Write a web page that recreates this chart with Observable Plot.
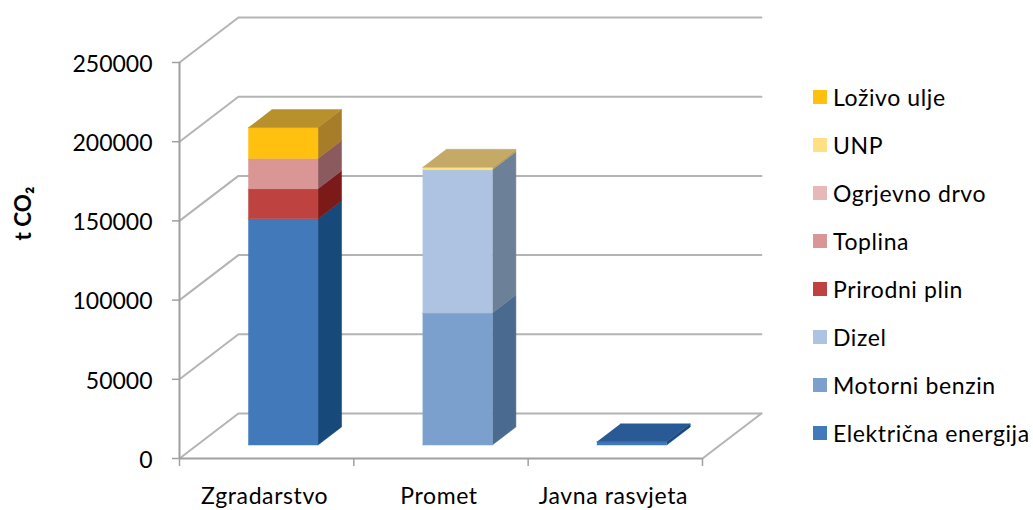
<!DOCTYPE html>
<html>
<head>
<meta charset="utf-8">
<script src="https://cdn.jsdelivr.net/npm/d3@7"></script>
<script src="https://cdn.jsdelivr.net/npm/@observablehq/plot@0.6"></script>
<style>
html,body{margin:0;padding:0;background:#fff;}
#wrap{position:relative;width:1033px;height:510px;overflow:hidden;font-family:Lato,sans-serif;}
#legend{position:absolute;left:813px;top:73px;display:flex;flex-direction:column;}
.row{height:48px;display:flex;align-items:center;font-size:23px;color:#000;white-space:nowrap;letter-spacing:0.6px;}
.sw{width:14px;height:14px;margin-right:6px;flex:none;}
</style>
</head>
<body>
<div id="wrap"><div id="legend"></div></div>
<script>
const categories = ["Zgradarstvo", "Promet", "Javna rasvjeta"];
const seriesNames = ["Električna energija", "Motorni benzin", "Dizel", "Prirodni plin", "Toplina", "Ogrjevno drvo", "UNP", "Loživo ulje"];
const electricity = [142800, 0, 2000];
const petrol = [0, 83300, 0];
const diesel = [0, 90500, 0];
const naturalGas = [19000, 0, 0];
const heat = [19000, 0, 0];
const firewood = [0, 0, 0];
const lpg = [0, 1500, 0];
const fuelOil = [19600, 0, 0];
const seriesValues = [electricity, petrol, diesel, naturalGas, heat, firewood, lpg, fuelOil];
const frontColors = ["#4279BB", "#7BA0CE", "#ADC3E1", "#BE4340", "#D99694", "#E6B9B8", "#FFE082", "#FFC010"];
const sideColors = ["#17497A", "#4B6A90", "#6C8098", "#7B1A18", "#8B5A5E", "#A07C7C", "#B8A060", "#A87D2A"];
const topColors = ["#2A5A96", "#5C7FA8", "#8CA2BE", "#97302E", "#A87472", "#B89392", "#C4AA66", "#B8902C"];
const yTicks = [0, 50000, 100000, 150000, 200000, 250000];
const xTicks = [0, 1, 2, 3];

// Oblique projection expressed in data units: depth 1 = the full floor depth.
const depthX = 0.338, depthY = 28400;
const P = (x, v, d) => ({x: x + d * depthX, y: v + d * depthY});
const barGap = 0.293, barWidth = 0.4, d0 = 0.3, d1 = 0.7;

const marks = [];
const lineStyle = {x: "x", y: "y", stroke: "#B4B4B4", strokeWidth: 2};

// walls and floor
for (const t of yTicks) {
  marks.push(Plot.line([P(0, t, 0), P(0, t, 1), P(3, t, 1)], lineStyle));
}
marks.push(Plot.line([P(3, 0, 1), P(3, 0, 0)], lineStyle));

// bars
const poly = (pts, fill) => Plot.line(pts, {x: "x", y: "y", fill, stroke: fill, strokeWidth: 0.5});
categories.forEach((c, i) => {
  const xl = i + barGap, xr = xl + barWidth;
  let base = 0, lastTop = -1;
  seriesValues.forEach((vals, s) => { if (vals[i] > 0) lastTop = s; });
  seriesValues.forEach((vals, s) => {
    const v = vals[i];
    if (!v) return;
    const top = base + v;
    marks.push(poly([P(xr, base, d0), P(xr, base, d1), P(xr, top, d1), P(xr, top, d0)], sideColors[s]));
    marks.push(poly([P(xl, base, d0), P(xr, base, d0), P(xr, top, d0), P(xl, top, d0)], frontColors[s]));
    if (s === lastTop) {
      marks.push(poly([P(xl, top, d0), P(xr, top, d0), P(xr, top, d1), P(xl, top, d1)], topColors[s]));
    }
    base = top;
  });
});

// axes
const axisStroke = "#A0A0A0";
const tickX = 0.04, tickV = 5000;
marks.push(Plot.ruleX([0], {y1: 0, y2: 250000, stroke: axisStroke, strokeWidth: 2}));
marks.push(Plot.ruleY([0], {x1: 0, x2: 3, stroke: axisStroke, strokeWidth: 2}));
marks.push(Plot.ruleY(yTicks, {y: d => d, x1: -tickX, x2: 0, stroke: axisStroke, strokeWidth: 1.5}));
marks.push(Plot.ruleX(xTicks, {x: d => d, y1: -tickV, y2: 0, stroke: axisStroke, strokeWidth: 1.5}));
marks.push(Plot.text(yTicks, {x: () => 0, y: d => d, text: d => String(d), textAnchor: "end", dx: -27, dy: 2, fontSize: 23, fill: "#000"}));
marks.push(Plot.text(categories, {x: (d, i) => i + 0.5, y: () => 0, text: d => d, dx: -2, dy: 38, fontSize: 23, fill: "#000"}));
marks.push(Plot.text(["t CO₂"], {frameAnchor: "left", dx: 23, dy: -15, rotate: -90, text: d => d, fontSize: 22.5, fontWeight: "bold", fill: "#000"}));

const chart = Plot.plot({
  width: 1033, height: 510,
  marginTop: 0, marginRight: 0, marginBottom: 0, marginLeft: 0,
  x: {type: "linear", domain: [0, 3], range: [179, 702], axis: null},
  y: {type: "linear", domain: [0, 250000], range: [458, 62], axis: null},
  style: {fontFamily: "Lato, sans-serif", background: "#fff", overflow: "visible"},
  marks
});
chart.querySelectorAll("text").forEach(t => { if (categories.includes(t.textContent)) t.style.letterSpacing = "0.6px"; });
document.getElementById("wrap").prepend(chart);

// legend, top to bottom in reverse stacking order
const legend = document.getElementById("legend");
const legendOrder = ["Loživo ulje", "UNP", "Ogrjevno drvo", "Toplina", "Prirodni plin", "Dizel", "Motorni benzin", "Električna energija"];
for (const n of legendOrder) {
  const row = document.createElement("div"); row.className = "row";
  const sw = document.createElement("div"); sw.className = "sw"; sw.style.background = frontColors[seriesNames.indexOf(n)];
  const t = document.createElement("span"); t.textContent = n;
  row.append(sw, t); legend.append(row);
}
</script>
</body>
</html>
